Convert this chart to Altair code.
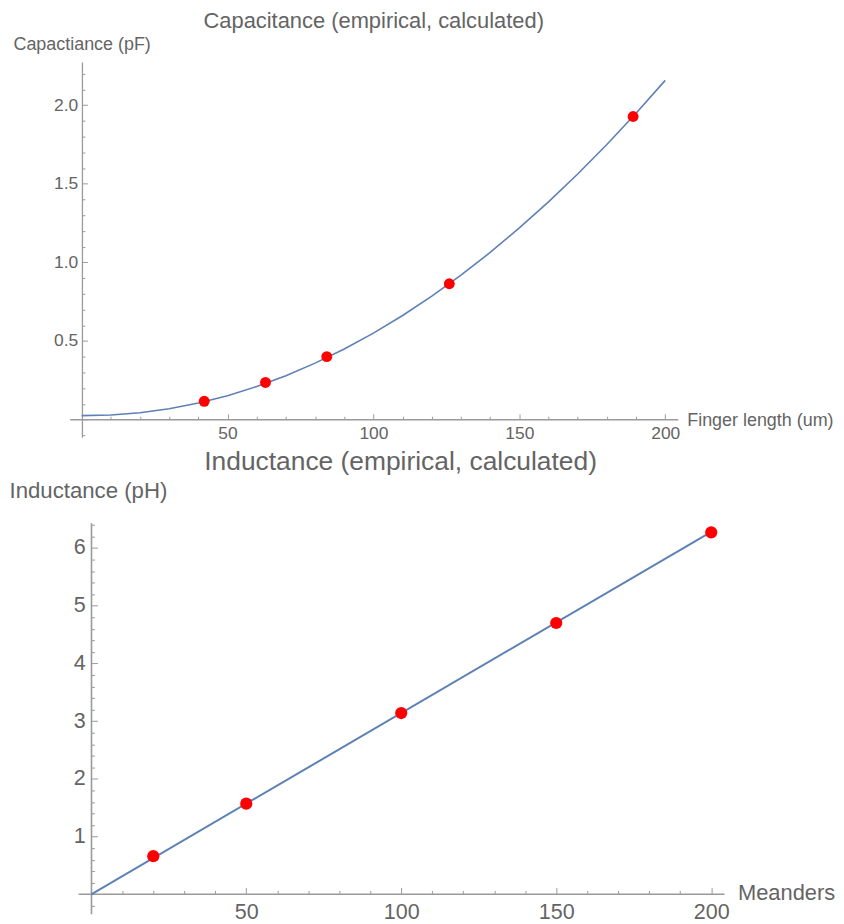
import altair as alt
import pandas as pd

# ---------------- data ----------------
# Capacitance panel
cap_len_meas = [42, 63, 84, 126, 189]
cap_val_meas = [0.116, 0.236, 0.400, 0.864, 1.928]
cap_len_fit = [0, 10, 20, 30, 40, 50, 60, 70, 80, 90, 100,
               110, 120, 130, 140, 150, 160, 170, 180, 190, 200]
cap_val_fit = [0.025, 0.029, 0.043, 0.069, 0.105, 0.152, 0.210, 0.279, 0.359, 0.449, 0.550,
               0.662, 0.785, 0.919, 1.063, 1.219, 1.385, 1.562, 1.750, 1.949, 2.158]
cap_x_labels = [50, 100, 150, 200]
cap_y_labels = [0.5, 1.0, 1.5, 2.0]
cap_x_ticks = [10 * i for i in range(1, 21)]
cap_y_ticks = [round(0.1 * i, 1) for i in range(-1, 23)]
cap_x_domain = [-4.1, 204.3]
cap_y_domain = [-0.112, 2.275]

# Inductance panel
ind_mea_meas = [20, 50, 100, 150, 200]
ind_val_meas = [0.66, 1.57, 3.14, 4.70, 6.27]
ind_mea_fit = [0, 200]
ind_val_fit = [0.0, 6.28]
ind_x_labels = [50, 100, 150, 200]
ind_y_labels = [1, 2, 3, 4, 5, 6]
ind_x_ticks = [10 * i for i in range(1, 21)]
ind_y_ticks = [round(0.2 * i, 1) for i in range(-1, 33)]
ind_x_domain = [-6.96, 204.3]
ind_y_domain = [-0.339, 6.437]
ind_axis_extent = [-4.07, 204.3]

FONT = "Liberation Sans"
TXT = "#646464"
AX = "#9a9a9a"
BLUE = "#5e81b5"


def tick_axis(orient, values, offset, test, major, minor, domain=True, width=1.3):
    return alt.Axis(orient=orient, values=values, offset=offset, labels=False, title=None,
                    grid=False, domain=domain, domainColor=AX, domainWidth=width,
                    ticks=True, tickColor=AX, tickWidth=1,
                    tickSize={"condition": {"test": test, "value": major}, "value": minor})


def label_axis(orient, values, offset, pad, fs, title, tx, ty, talign, tbase, tfs, fmt=""):
    kw = dict(orient=orient, values=values, offset=offset, labels=True, ticks=False, tickSize=0,
              domain=False, grid=False, labelPadding=pad, labelFont=FONT, labelFontSize=fs,
              labelColor=TXT, labelFlush=False, labelOverlap=False,
              title=title, titleAngle=0, titleX=tx, titleY=ty, titleAlign=talign,
              titleBaseline=tbase, titleFont=FONT, titleFontSize=tfs, titleColor=TXT,
              titleFontWeight="normal", titlePadding=0)
    if fmt:
        kw["format"] = fmt
    return alt.Axis(**kw)


# ---------------- capacitance ----------------
cap_fit = pd.DataFrame({"len": cap_len_fit, "val": cap_val_fit})
cap_meas = pd.DataFrame({"len": cap_len_meas, "val": cap_val_meas})
xs1 = alt.Scale(domain=cap_x_domain, nice=False, zero=False)
ys1 = alt.Scale(domain=cap_y_domain, nice=False, zero=False)

cap_line = alt.Chart(cap_fit).mark_line(color=BLUE, strokeWidth=1.6).encode(
    x=alt.X("len:Q", scale=xs1,
            axis=tick_axis("top", cap_x_ticks, -359, "datum.value % 50 === 0", 5.5, 3)),
    y=alt.Y("val:Q", scale=ys1,
            axis=tick_axis("right", cap_y_ticks, -598.7,
                           "abs(round(datum.value * 10)) % 5 === 0", 5.5, 3)),
)
cap_pts = alt.Chart(cap_meas).mark_circle(color="#ff0000", size=120, opacity=1).encode(
    x=alt.X("len:Q", scale=xs1,
            axis=label_axis("bottom", cap_x_labels, -17.7, 5.5, 17.5, "Finger length (um)",
                            620, 1, "left", "middle", 18)),
    y=alt.Y("val:Q", scale=ys1,
            axis=label_axis("left", cap_y_labels, -12, 4, 17.5, "Capactiance (pF)",
                            -69, -12.7, "left", "alphabetic", 18, ".1f")),
)
cap = alt.layer(cap_line, cap_pts).resolve_axis(x="independent", y="independent").properties(
    width=611, height=377,
    title=alt.Title("Capacitance (empirical, calculated)", font=FONT, fontSize=22,
                    fontWeight="normal", color=TXT, anchor="middle", frame="group",
                    baseline="bottom", offset=-20),
)

# ---------------- inductance ----------------
ind_fit = pd.DataFrame({"m": ind_mea_fit, "val": ind_val_fit})
ind_meas = pd.DataFrame({"m": ind_mea_meas, "val": ind_val_meas})
ind_ax = pd.DataFrame({"x": [ind_axis_extent[0]], "x2": [ind_axis_extent[1]], "y": [0]})
xs2 = alt.Scale(domain=ind_x_domain, nice=False, zero=False)
ys2 = alt.Scale(domain=ind_y_domain, nice=False, zero=False)

ind_axis_line = alt.Chart(ind_ax).mark_rule(color=AX, strokeWidth=1.6).encode(
    x=alt.X("x:Q", scale=xs2, axis=None), x2="x2:Q",
    y=alt.Y("y:Q", scale=ys2, axis=None),
)
ind_line = alt.Chart(ind_fit).mark_line(color=BLUE, strokeWidth=2).encode(
    x=alt.X("m:Q", scale=xs2,
            axis=tick_axis("top", ind_x_ticks, -373, "datum.value % 50 === 0", 6.5, 3.5,
                           domain=False)),
    y=alt.Y("val:Q", scale=ys2,
            axis=tick_axis("right", ind_y_ticks, -636.6,
                           "abs(round(datum.value * 10)) % 10 === 0", 6.5, 3.5, width=1.6)),
)
ind_pts = alt.Chart(ind_meas).mark_circle(color="#ff0000", size=150, opacity=1).encode(
    x=alt.X("m:Q", scale=xs2,
            axis=label_axis("bottom", ind_x_labels, -19.7, 7, 21.6, "Meanders",
                            671, -2, "left", "middle", 22)),
    y=alt.Y("val:Q", scale=ys2,
            axis=label_axis("left", ind_y_labels, -21.7, 6, 21.6, "Inductance (pH)",
                            -82.7, -25, "left", "alphabetic", 22.3)),
)
ind = alt.layer(ind_axis_line, ind_line, ind_pts).resolve_axis(
    x="independent", y="independent").properties(
    width=658, height=393,
    title=alt.Title("Inductance (empirical, calculated)", font=FONT, fontSize=26.5,
                    fontWeight="normal", color=TXT, anchor="middle", frame="group",
                    baseline="bottom", offset=-23, dx=3.5),
)

chart = alt.vconcat(cap, ind, spacing=6).properties(
    padding={"left": 0, "top": -1, "right": 0, "bottom": 1}
).configure_view(stroke="transparent")

chart.save("out.html", embed_options={"renderer": "svg", "actions": False})
